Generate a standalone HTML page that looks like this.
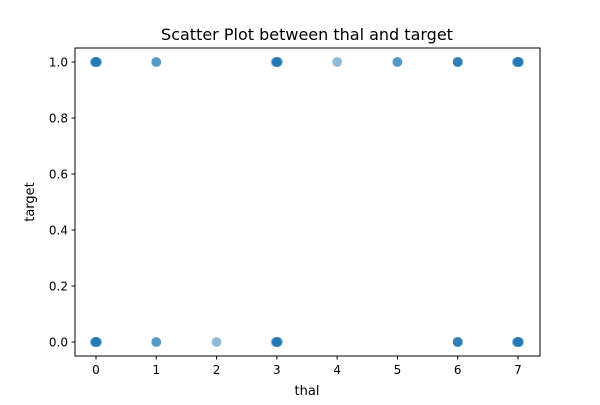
<!DOCTYPE html>
<html><head><meta charset="utf-8"><style>
body{margin:0;background:#fff;font-family:"Liberation Sans","DejaVu Sans",sans-serif;}
svg text{font-family:"DejaVu Sans","Liberation Sans",sans-serif;}
</style></head><body>
<svg id="chart" width="600" height="400" viewBox="0 0 600 400" xmlns="http://www.w3.org/2000/svg">
<rect width="600" height="400" fill="#fff"/>
<text x="307" y="40" font-size="16" text-anchor="middle" fill="#000">Scatter Plot between thal and target</text>
<g id="marks"></g>
<rect x="75" y="48" width="465" height="308" fill="none" stroke="#000" stroke-width="1"/>
<g id="xticks"></g><g id="yticks"></g>
<text x="307" y="395" font-size="13" text-anchor="middle">thal</text>
<text transform="translate(34,202) rotate(-90)" font-size="13" text-anchor="middle">target</text>
</svg>
<script>
const thalValues = [0,0,0,0,0.02,-0.02,1,1,3,3,3,3,3.02,2.98,4,5,5,6,6,6,6,7,7,7,7,7.02,6.98,0,0,0,0,0.02,-0.02,1,1,2,3,3,3,3,3.02,2.98,6,6,6,6,7,7,7,7,7.02,6.98];
const targetValues = [1,1,1,1,1,1,1,1,1,1,1,1,1,1,1,1,1,1,1,1,1,1,1,1,1,1,1,0,0,0,0,0,0,0,0,0,0,0,0,0,0,0,0,0,0,0,0,0,0,0,0,0];
const xTickLabels = ["0","1","2","3","4","5","6","7"];
const xTickValues = [0,1,2,3,4,5,6,7];
const yTickValues = [0,0.2,0.4,0.6,0.8,1.0];
const yTickLabels = ["0.0","0.2","0.4","0.6","0.8","1.0"];
const ns="http://www.w3.org/2000/svg";
function xs(v){return 96+v*(518-96)/7;}
function ys(v){return 342-v*280;}
const marks=document.getElementById('marks');
for(let i=0;i<thalValues.length;i++){
  const c=document.createElementNS(ns,'circle');
  c.setAttribute('cx',xs(thalValues[i]));c.setAttribute('cy',ys(targetValues[i]));
  c.setAttribute('r',4.9);c.setAttribute('fill','#1f77b4');c.setAttribute('fill-opacity','0.5');
  
  
  marks.appendChild(c);
}
const xt=document.getElementById('xticks');
xTickValues.forEach((v,i)=>{
  const x=xs(v);
  const l=document.createElementNS(ns,'line');
  l.setAttribute('x1',x);l.setAttribute('x2',x);l.setAttribute('y1',356);l.setAttribute('y2',359.5);l.setAttribute('stroke','#000');
  
  
  xt.appendChild(l);
  const t=document.createElementNS(ns,'text');
  t.setAttribute('x',x);t.setAttribute('y',374);t.setAttribute('font-size','12');t.setAttribute('text-anchor','middle');
  t.textContent=xTickLabels[i];
  
  
  xt.appendChild(t);
});
const yt=document.getElementById('yticks');
yTickValues.forEach((v,i)=>{
  const y=ys(v);
  const l=document.createElementNS(ns,'line');
  l.setAttribute('x1',71.5);l.setAttribute('x2',75);l.setAttribute('y1',y);l.setAttribute('y2',y);l.setAttribute('stroke','#000');
  
  
  yt.appendChild(l);
  const t=document.createElementNS(ns,'text');
  t.setAttribute('x',68);t.setAttribute('y',y+4.5);t.setAttribute('font-size','12');t.setAttribute('text-anchor','end');
  t.textContent=yTickLabels[i];
  
  
  yt.appendChild(t);
});
</script>
</body></html>
